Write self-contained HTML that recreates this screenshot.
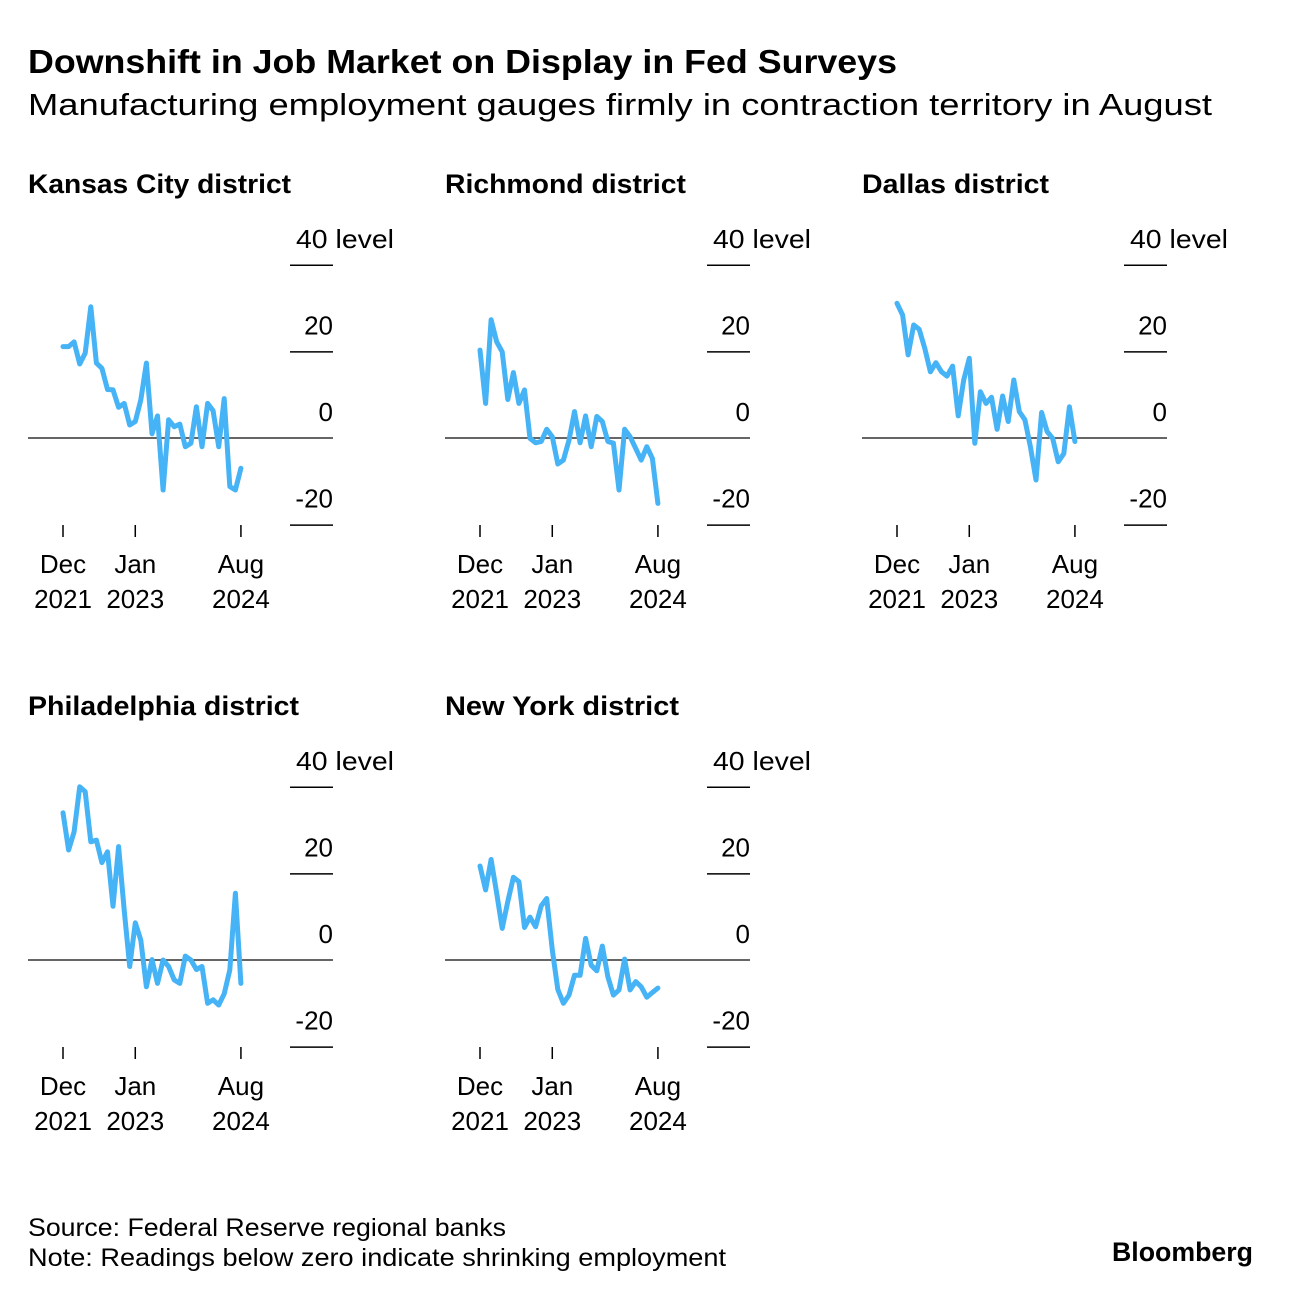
<!DOCTYPE html>
<html><head><meta charset="utf-8"><style>
body{margin:0;background:#fff;width:1292px;height:1296px;overflow:hidden;font-family:"Liberation Sans",sans-serif;color:#000}
svg text{font-family:"Liberation Sans",sans-serif}
</style></head><body>
<svg id="chart" width="1292" height="1296" viewBox="0 0 1292 1296">
<text x="28" y="73" font-size="33" font-weight="bold" textLength="869" lengthAdjust="spacingAndGlyphs">Downshift in Job Market on Display in Fed Surveys</text>
<text x="28" y="115" font-size="31" textLength="1184" lengthAdjust="spacingAndGlyphs">Manufacturing employment gauges firmly in contraction territory in August</text>
<text x="28" y="1236" font-size="25" textLength="478" lengthAdjust="spacingAndGlyphs">Source: Federal Reserve regional banks</text>
<text x="28" y="1266" font-size="25" textLength="698" lengthAdjust="spacingAndGlyphs">Note: Readings below zero indicate shrinking employment</text>
<text x="1112" y="1261" font-size="27" font-weight="bold" textLength="141" lengthAdjust="spacingAndGlyphs">Bloomberg</text>
<g id="panels"></g>
</svg>
<script>
const titles = ["Kansas City district","Richmond district","Dallas district","Philadelphia district","New York district"];
const titleWidths = [263,241,187,271,234];
const yTicks = [40,20,0,-20];
const xTickIdx = [0,13,32];
const xTickMonth = ["Dec","Jan","Aug"];
const xTickYear = ["2021","2023","2024"];
const kansas = [21.1,21.1,22.2,17.1,19.6,30.3,17.3,16.1,11.2,11.1,7.1,8.0,3.0,3.8,8.8,17.3,1.0,5.1,-12,4.2,2.6,3.2,-2.0,-1.2,7.2,-2,8,6.3,-2,9.1,-11.2,-12,-7];
const richmond = [20.3,8.0,27.3,22.2,19.9,8.9,15.1,8.0,11.1,-0.1,-1.1,-0.8,2.0,0.3,-6.0,-5.1,-0.5,6.1,-1.1,5.1,-2.0,5.0,3.8,-0.8,-1.2,-12,2.0,0.3,-2.4,-5.1,-2.0,-4.7,-15.1];
const dallas = [31.1,28.4,19.2,26.1,25.1,20.7,15.3,17.4,15.3,14.3,16.6,5.1,13.4,18.4,-1.2,10.7,8.0,9.4,2.0,9.7,3.8,13.4,6.1,4.2,-2.0,-9.7,5.9,1.5,-0.1,-5.5,-3.6,7.2,-0.8];
const philly = [34.0,25.4,29.6,40.0,38.9,27.3,27.7,22.5,25.0,12.4,26.2,11.5,-1.5,8.6,4.6,-6.2,0.1,-5.4,0,-1.5,-4.6,-5.4,0.9,0,-2.2,-1.5,-10,-9.2,-10.4,-7.8,-2.3,15.4,-5.4];
const newyork = [21.7,16.2,23.2,15.4,7.3,13.5,19.1,18.1,7.5,9.9,7.7,12.5,14.2,2.3,-6.8,-10,-8.1,-3.5,-3.5,5.0,-1.2,-2.5,3.2,-3.9,-8.1,-6.9,0.2,-6.9,-5.0,-6.2,-8.6,-7.5,-6.5];
const seriesList = [kansas,richmond,dallas,philly,newyork];
const NS="http://www.w3.org/2000/svg";
const root=document.getElementById('panels');
function mk(tag,attrs,parent){const e=document.createElementNS(NS,tag);for(const k in attrs)e.setAttribute(k,attrs[k]);parent.appendChild(e);return e;}
seriesList.forEach((data,p)=>{
  const ox=28+417*(p%3), oy=Math.floor(p/3)*522;
  const g=mk('g',{},root);
  
  
  const xs=i=>ox+35+i*5.56;
  const ys=v=>oy+438-v*4.33;
  const t=mk('text',{x:ox,y:oy+193,'font-size':27,'font-weight':'bold',textLength:titleWidths[p],lengthAdjust:'spacingAndGlyphs'},g);t.textContent=titles[p];
  
  
  yTicks.forEach(v=>{
    const y=ys(v);
    if(v===0){const l=mk('line',{x1:ox,x2:ox+305,y1:y,y2:y,stroke:'#333','stroke-width':1.5},g);
      
      }
    else {const l=mk('line',{x1:ox+262,x2:ox+305,y1:y+0.5,y2:y+0.5,stroke:'#000','stroke-width':1.5},g);
      
      }
    const isTop=(v===40);
    const lb=mk('text',{x:isTop?ox+268:ox+305,y:y-17,'font-size':26,'text-anchor':isTop?'start':'end'},g);
    if(isTop){lb.setAttribute('textLength',98);lb.setAttribute('lengthAdjust','spacingAndGlyphs');}
    lb.textContent=isTop?(v+' level'):String(v);
    
    
  });
  xTickIdx.forEach((idx,k)=>{
    const x=xs(idx);
    const tk=mk('line',{x1:x,x2:x,y1:oy+525,y2:oy+537,stroke:'#000','stroke-width':1.5},g);
    
    
    const a=mk('text',{x:x,y:oy+573,'font-size':26,'text-anchor':'middle'},g);a.textContent=xTickMonth[k];
    
    
    const b=mk('text',{x:x,y:oy+608,'font-size':26,'text-anchor':'middle'},g);b.textContent=xTickYear[k];
    
    
  });
  const pts=data.map((v,i)=>xs(i).toFixed(1)+','+ys(v).toFixed(1)).join(' ');
  const pl=mk('polyline',{points:pts,fill:'none',stroke:'#45b3f5','stroke-width':5,'stroke-linejoin':'round','stroke-linecap':'round'},g);
  
  
});
</script>
</body></html>
